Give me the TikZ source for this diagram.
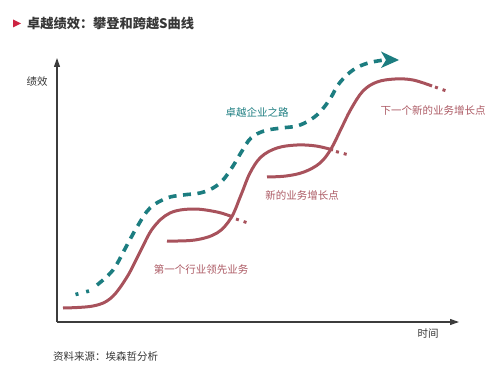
\documentclass[tikz,border=0pt]{standalone}
\usepackage{fontspec}
\setmainfont{Noto Sans CJK SC}
\usetikzlibrary{arrows.meta}
\definecolor{curvered}{RGB}{168,82,92}
\definecolor{labelred}{RGB}{172,90,100}
\definecolor{tealc}{RGB}{28,125,128}
\definecolor{titlegray}{RGB}{55,55,55}
\definecolor{titlered}{RGB}{205,35,65}
\definecolor{axisgray}{RGB}{60,60,60}
\tikzset{
  scurve/.style={draw=curvered, line width=3pt, line cap=butt},
  sdots/.style={draw=curvered, line width=3pt, dash pattern=on 3pt off 5pt},
  tealpath/.style={draw=tealc, line width=3.6pt, dash pattern=on 8pt off 6.5pt},
  axisline/.style={draw=axisgray, line width=1.1pt, -{Triangle[length=9pt,width=6pt]}},
  redlabel/.style={text=labelred, font=\fontsize{10.5}{12}\selectfont, inner sep=0pt},
  teallabel/.style={text=tealc, font=\fontsize{10.5}{12}\selectfont, inner sep=0pt},
  graylabel/.style={text=titlegray, font=\fontsize{10.5}{12}\selectfont, inner sep=0pt}
}
\begin{document}
\begin{tikzpicture}[x=1pt,y=-1pt]
\useasboundingbox (0,0) rectangle (500,374);
% title
\fill[titlered] (13,19.5) -- (21,23.5) -- (13,27.5) -- cycle;
\node[anchor=west, text=titlegray, inner sep=0pt, font=\fontsize{13.2}{15}\selectfont\bfseries] (title) at (27,23.5) {卓越绩效：攀登和跨越S曲线};
% axes
\coordinate (origin) at (57,322);
\coordinate (ytop) at (57,58);
\coordinate (xend) at (459,322);
\draw[axisline] (origin) -- (ytop);
\draw[axisline] (origin) -- (xend);
\node[graylabel] (ylab) at (37,82) {绩效};
\node[graylabel] (xlab) at (428,334) {时间};
\node[graylabel, anchor=west] (source) at (53,357) {资料来源：埃森哲分析};
% curve 1
\draw[scurve] plot[smooth, tension=0.6] coordinates {(63,308) (93,306) (111,298) (127,277) (140,252) (153,228) (170,213) (193,209) (217,212) (233,217)};
\draw[sdots] (236,219) -- (248,223);
% curve 2
\draw[scurve] plot[smooth, tension=0.6] coordinates {(167,241) (195,240) (217,233) (231,218) (241,195) (250,173) (261,157) (277,148) (297,145) (316,146) (333,150)};
\draw[sdots] (336,151.5) -- (349,155);
% curve 3
\draw[scurve] plot[smooth, tension=0.6] coordinates {(267,177) (286,176) (304,172) (320,163) (331,149) (341,129) (351,109) (363,91) (377,82) (395,79) (413,80) (432,86)};
\draw[sdots] (435,87) -- (448,91.5);
% teal path
\draw[tealpath, dash pattern=on 3pt off 8pt] (75.5,294.5) -- (91,290.5);
\draw[tealpath] plot[smooth, tension=0.6] coordinates {(97,285) (113,270) (126,247) (137,227) (150,208) (167,198) (183,195) (200,193) (213,188) (223,180) (233,166) (242,151) (251,138) (264,131) (281,128) (297,126) (310,120) (320,112) (330,99) (338,85) (348,74) (358,67) (370,62.5) (384,60)};
\fill[tealc] (381,51.5) -- (399,60) -- (381,68) -- (386,60) -- cycle;
% labels
\node[teallabel] (road) at (257,112) {卓越企业之路};
\node[redlabel] (first) at (201,270) {第一个行业领先业务};
\node[redlabel] (second) at (302,195) {新的业务增长点};
\node[redlabel] (third) at (433,110) {下一个新的业务增长点};
\end{tikzpicture}
\end{document}
